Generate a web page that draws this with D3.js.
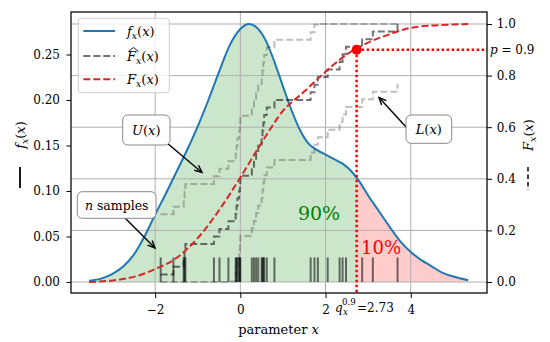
<!DOCTYPE html>
<html><head><meta charset="utf-8">
<script src="https://cdn.jsdelivr.net/npm/d3@7"></script>
<style>body{margin:0;background:#fff} svg{display:block}</style>
</head><body><svg id="c" width="550" height="342"></svg>
<script>
// ---------- data ----------
const pdfX = [-3.55,-3.25,-3.0,-2.75,-2.5,-2.25,-2.0,-1.75,-1.5,-1.25,-1.0,-0.75,-0.5,-0.25,0.0,0.2,0.4,0.6,0.8,1.0,1.2,1.4,1.6,1.8,2.0,2.2,2.4,2.6,2.8,3.0,3.25,3.5,3.75,4.0,4.25,4.5,4.75,5.0,5.35];
const pdfY = [0.0015,0.004,0.009,0.017,0.030,0.050,0.074,0.097,0.121,0.145,0.171,0.200,0.231,0.260,0.278,0.2835,0.279,0.265,0.242,0.215,0.189,0.167,0.152,0.145,0.140,0.135,0.130,0.122,0.110,0.095,0.078,0.061,0.045,0.033,0.024,0.017,0.010,0.006,0.002];
const cdfX = [-3.55,-3.0,-2.5,-2.0,-1.5,-1.0,-0.5,0.0,0.5,1.0,1.5,2.0,2.5,3.0,3.5,4.0,4.5,5.0,5.35];
const cdfY = [0.0,0.006,0.02,0.05,0.093,0.17,0.278,0.405,0.54,0.663,0.738,0.815,0.882,0.928,0.96,0.985,0.994,0.998,1.0];
const samples = [-1.87,-1.57,-1.33,-1.31,-1.29,-0.62,-0.49,-0.28,-0.11,-0.09,-0.07,-0.03,-0.01,0.00,0.27,0.32,0.37,0.42,0.50,0.52,0.54,0.56,0.62,0.80,1.65,1.74,1.82,2.05,2.33,2.40,2.48,2.86,3.11,3.69];
const bandEps = 0.233;
const quantileX = 2.73, quantileP = 0.9;
const xTicks = [-2,0,2,4];
const yLeftTicks = [0,0.05,0.10,0.15,0.20,0.25];
const yRightTicks = [0,0.2,0.4,0.6,0.8,1.0];

// ---------- layout ----------
const FONT = '"DejaVu Serif",serif';
const X0=71, X1=487, Y0=12, Y1=293;
const svg = d3.select('#c');
const x = d3.scaleLinear().domain([-3.975,5.79]).range([X0,X1]);
const yL = d3.scaleLinear().domain([-0.0121,0.2967]).range([Y1,Y0]);
const yR = d3.scaleLinear().domain([-0.0426,1.0465]).range([Y1,Y0]);
const FS = 12;

const defs = svg.append('defs');
defs.append('clipPath').attr('id','ax').append('rect').attr('x',X0).attr('y',Y0).attr('width',X1-X0).attr('height',Y1-Y0);
defs.append('clipPath').attr('id','left').append('rect').attr('x',X0).attr('y',Y0).attr('width',x(quantileX)-X0).attr('height',Y1-Y0);
defs.append('clipPath').attr('id','right').append('rect').attr('x',x(quantileX)).attr('y',Y0).attr('width',X1-x(quantileX)).attr('height',Y1-Y0);

function math(g, px, py, parts, size, anchor){
  const t = g.append('text').attr('x',px).attr('y',py).attr('font-size',size).attr('text-anchor',anchor||'start');
  let cur = 0;
  parts.forEach(p=>{
    const [s, st] = p;
    const ts = t.append('tspan').text(s);
    let target = 0;
    if (st==='i') ts.attr('font-style','italic');
    if (st==='sub'){ ts.attr('font-style','italic').attr('font-size',size*0.72); target = size*0.22; }
    if (st==='sup'){ ts.attr('font-size',size*0.72); target = -size*0.4; }
    if (target!==cur){ ts.attr('dy', target-cur); cur = target; }
  });
  return t;
}
const fx = [['f','i'],['x','sub'],['('],['x','i'],[')']];
const Fx = [['F','i'],['x','sub'],['('],['x','i'],[')']];

// ---------- fills ----------
const area = d3.area().curve(d3.curveMonotoneX)
  .x((d,i)=>x(pdfX[i])).y0(yL(0)).y1((d,i)=>yL(pdfY[i]));
svg.append('path').attr('d',area(pdfX)).attr('fill','green').attr('fill-opacity',0.2).attr('clip-path','url(#left)');
svg.append('path').attr('d',area(pdfX)).attr('fill','red').attr('fill-opacity',0.2).attr('clip-path','url(#right)');

// ---------- grid ----------
const grid = svg.append('g').attr('stroke','#b0b0b0').attr('stroke-width',1);
xTicks.forEach(v=>grid.append('line').attr('x1',x(v)).attr('x2',x(v)).attr('y1',Y0).attr('y2',Y1));
yRightTicks.forEach(v=>grid.append('line').attr('x1',X0).attr('x2',X1).attr('y1',yR(v)).attr('y2',yR(v)));

const plot = svg.append('g').attr('clip-path','url(#ax)');
// pdf
const pdfLine = d3.line().curve(d3.curveMonotoneX).x((d,i)=>x(pdfX[i])).y((d,i)=>yL(pdfY[i]));
plot.append('path').attr('d',pdfLine(pdfX)).attr('fill','none').attr('stroke','#1f77b4').attr('stroke-width',2);
// rug
plot.selectAll('line.rug').data(samples).enter().append('line')
  .attr('x1',d=>x(d)).attr('x2',d=>x(d)).attr('y1',yL(0)).attr('y2',yL(0.027))
  .attr('stroke','#000').attr('stroke-opacity',0.55).attr('stroke-width',2);

// ECDF and bands
const sorted = samples.slice().sort((a,b)=>a-b);
const n = sorted.length;
const step = d3.line().curve(d3.curveStepAfter).x(d=>x(d[0])).y(d=>yR(d[1]));
const ecdf = sorted.map((s,i)=>[s,(i+1)/n]);
const upper = ecdf.map(d=>[d[0],Math.min(d[1]+bandEps,1)]);
const lower = ecdf.map(d=>[d[0],Math.max(d[1]-bandEps,0)]);
[upper,lower].forEach(b=>plot.append('path').attr('d',step(b)).attr('fill','none')
  .attr('stroke','#000').attr('stroke-opacity',0.25).attr('stroke-width',2).attr('stroke-dasharray','7,3'));
plot.append('path').attr('d',step(ecdf)).attr('fill','none')
  .attr('stroke','#000').attr('stroke-opacity',0.55).attr('stroke-width',2).attr('stroke-dasharray','7,3');
// CDF
const cdfLine = d3.line().curve(d3.curveMonotoneX).x((d,i)=>x(cdfX[i])).y((d,i)=>yR(cdfY[i]));
plot.append('path').attr('d',cdfLine(cdfX)).attr('fill','none').attr('stroke','#d62728').attr('stroke-width',2).attr('stroke-dasharray','7,3');
// quantile lines
plot.append('line').attr('x1',x(quantileX)).attr('x2',x(quantileX)).attr('y1',yR(quantileP)).attr('y2',Y1)
  .attr('stroke','red').attr('stroke-width',2.5).attr('stroke-dasharray','2.5,2.5');
plot.append('line').attr('x1',x(quantileX)).attr('x2',X1).attr('y1',yR(quantileP)).attr('y2',yR(quantileP))
  .attr('stroke','red').attr('stroke-width',2.5).attr('stroke-dasharray','2.5,2.5');
svg.append('circle').attr('cx',x(quantileX)).attr('cy',yR(quantileP)).attr('r',5).attr('fill','red');

// percentages
svg.append('text').attr('x',319).attr('y',220).attr('text-anchor','middle').attr('font-size',19).attr('fill','green').text('90%');
svg.append('text').attr('x',381).attr('y',254).attr('text-anchor','middle').attr('font-size',18).attr('fill','red').text('10%');

// ---------- annotations ----------
function arrow(x1,y1,x2,y2){
  const g = svg.append('g').attr('stroke','#000').attr('stroke-width',1.4).attr('fill','none');
  g.append('line').attr('x1',x1).attr('y1',y1).attr('x2',x2).attr('y2',y2);
  const a = Math.atan2(y2-y1,x2-x1), L=8, w=0.42;
  g.append('path').attr('d',`M${x2-L*Math.cos(a-w)},${y2-L*Math.sin(a-w)}L${x2},${y2}L${x2-L*Math.cos(a+w)},${y2-L*Math.sin(a+w)}`);
}
function box(x1,y1,x2,y2){
  svg.append('rect').attr('x',x1).attr('y',y1).attr('width',x2-x1).attr('height',y2-y1).attr('rx',5)
    .attr('fill','#fff').attr('stroke','#888').attr('stroke-width',1);
}
arrow(167,143,202,172.5);
box(122.7,115,170,145);
math(svg,146.3,134.5,[['U','i'],['('],['x','i'],[')']],13,'middle');
arrow(125,218,155,248);
box(77.3,191.7,156,218.3);
math(svg,116.7,209.5,[['n','i'],[' samples']],12.5,'middle');
arrow(407,128,379,97.5);
box(406,115,451.7,143.3);
math(svg,428.8,133.5,[['L','i'],['('],['x','i'],[')']],13,'middle');

// ---------- axes ----------
const fmtL = d3.format('.2f'), fmtR = d3.format('.1f');
const ax1 = svg.append('g').attr('transform',`translate(${X0},0)`)
  .call(d3.axisLeft(yL).tickValues(yLeftTicks).tickFormat(fmtL).tickSize(4.5).tickPadding(6.5));
const ax2 = svg.append('g').attr('transform',`translate(${X1},0)`)
  .call(d3.axisRight(yR).tickValues(yRightTicks).tickFormat(fmtR).tickSize(5).tickPadding(4.7));
const axb = svg.append('g').attr('transform',`translate(0,${Y1})`)
  .call(d3.axisBottom(x).tickValues(xTicks).tickFormat(d=>d<0?'\u2212'+Math.abs(d):String(d)).tickSize(5).tickPadding(7));
[ax1,ax2,axb].forEach(a=>{
  a.select('.domain').remove();
  a.attr('font-family',null).attr('font-size',null);
  a.selectAll('.tick line').attr('stroke','#000').attr('stroke-width',1);
  a.selectAll('.tick text').attr('font-size',FS).attr('fill','#000');
});
// extra tick labels
const pl = svg.append('g');
math(pl,490,yR(quantileP)+4.5,[['p','i'],[' = 0.9']],FS,'start');
const ql = svg.append('g');
ql.append('text').attr('x',335).attr('y',312).attr('font-size',FS).attr('font-style','italic').text('q');
ql.append('text').attr('x',342).attr('y',305).attr('font-size',FS*0.72).text('0.9');
ql.append('text').attr('x',343).attr('y',315).attr('font-size',FS*0.72).attr('font-style','italic').text('x');
ql.append('text').attr('x',357).attr('y',312).attr('font-size',FS).text('=2.73');

// axis labels
math(svg,278.5,334,[['parameter '],['x','i']],13,'middle');
const yl = svg.append('g').attr('transform','translate(25,135) rotate(-90)');
math(yl,0,0,fx,13,'middle');
svg.append('line').attr('x1',20).attr('x2',20).attr('y1',167).attr('y2',188).attr('stroke','#000').attr('stroke-width',1.8);
const yr = svg.append('g').attr('transform','translate(533,135) rotate(-90)');
math(yr,0,0,Fx,13,'middle');
svg.append('line').attr('x1',528).attr('x2',528).attr('y1',167).attr('y2',190).attr('stroke','#000').attr('stroke-width',1.5).attr('stroke-dasharray','4.5,3');

// spines
svg.append('rect').attr('x',X0).attr('y',Y0).attr('width',X1-X0).attr('height',Y1-Y0)
  .attr('fill','none').attr('stroke','#000').attr('stroke-width',1.25);

// ---------- legend ----------
const lg = svg.append('g');
lg.append('rect').attr('x',78.3).attr('y',18.3).attr('width',91).attr('height',74.4).attr('rx',3)
  .attr('fill','#fff').attr('fill-opacity',0.8).attr('stroke','#ccc').attr('stroke-width',1);
const rows = [31,56,79.3];
lg.append('line').attr('x1',83.3).attr('x2',115).attr('y1',rows[0]).attr('y2',rows[0]).attr('stroke','#1f77b4').attr('stroke-width',2);
lg.append('line').attr('x1',83.3).attr('x2',115).attr('y1',rows[1]).attr('y2',rows[1]).attr('stroke','#000').attr('stroke-opacity',0.55).attr('stroke-width',2).attr('stroke-dasharray','7,3');
lg.append('line').attr('x1',83.3).attr('x2',115).attr('y1',rows[2]).attr('y2',rows[2]).attr('stroke','#d62728').attr('stroke-width',2).attr('stroke-dasharray','7,3');
math(lg,127,rows[0]+5,fx,13,'start');
const hatT = math(lg,127,rows[1]+5,Fx,13,'start');
math(lg,127,rows[2]+5,Fx,13,'start');

// force serif font on every text
svg.selectAll('text').style('font-family',FONT);
try{
  const r = hatT.node().getExtentOfChar(0);
  const top = r.y + 1.5;
  lg.append('path').attr('d',`M${r.x+1.5},${top+1}L${r.x+r.width/2+2},${top-3}L${r.x+r.width+2.5},${top+1}`)
    .attr('fill','none').attr('stroke','#000').attr('stroke-width',0.9);
}catch(e){}
</script></body></html>
